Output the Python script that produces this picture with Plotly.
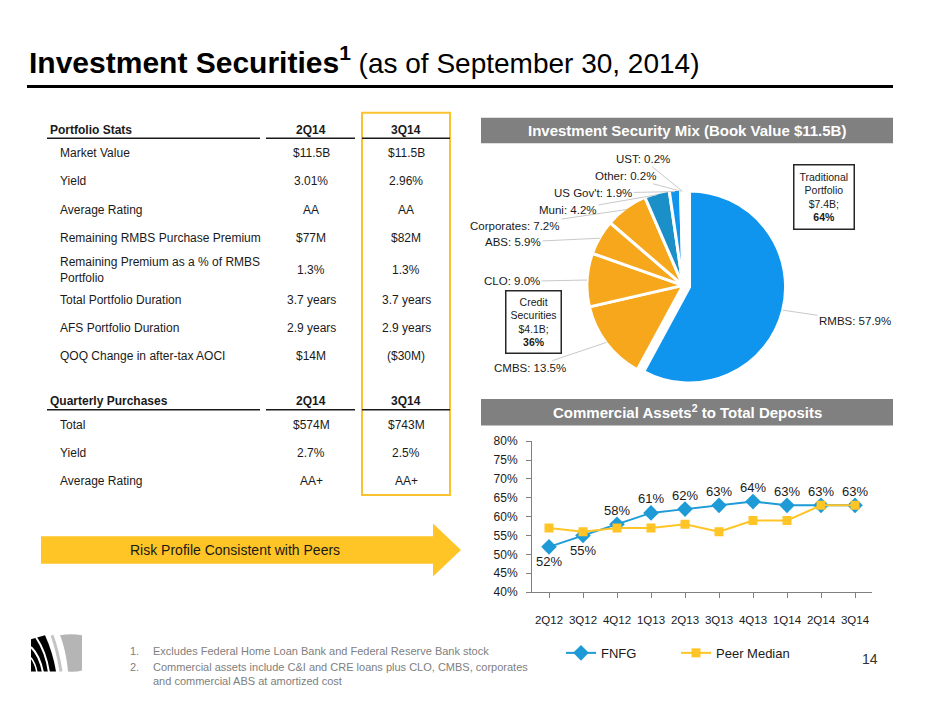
import math
import plotly.graph_objects as go

W, H = 940, 705

# Investment security mix (book value %)
mix_labels = ["RMBS", "CMBS", "CLO", "ABS", "Corporates", "Muni", "US Gov't", "Other", "UST"]
mix_values = [57.9, 13.5, 9.0, 5.9, 7.2, 4.2, 1.9, 0.2, 0.2]

# Commercial assets to total deposits (%)
quarters = ["2Q12", "3Q12", "4Q12", "1Q13", "2Q13", "3Q13", "4Q13", "1Q14", "2Q14", "3Q14"]
fnfg = [52, 55, 58, 61, 62, 63, 64, 63, 63, 63]
peer_median = [57, 56, 57, 57, 58, 56, 59, 59, 63, 63]
y_ticks = [40, 45, 50, 55, 60, 65, 70, 75, 80]

# Portfolio stats table
stats_labels = ["Market Value", "Yield", "Average Rating", "Remaining RMBS Purchase Premium",
                "Remaining Premium as a % of RMBS<br>Portfolio", "Total Portfolio Duration",
                "AFS Portfolio Duration", "QOQ Change in after-tax AOCI"]
stats_2q14 = ["$11.5B", "3.01%", "AA", "$77M", "1.3%", "3.7 years", "2.9 years", "$14M"]
stats_3q14 = ["$11.5B", "2.96%", "AA", "$82M", "1.3%", "3.7 years", "2.9 years", "($30M)"]

purch_labels = ["Total", "Yield", "Average Rating"]
purch_2q14 = ["$574M", "2.7%", "AA+"]
purch_3q14 = ["$743M", "2.5%", "AA+"]

FONT = "Liberation Sans, Arial, sans-serif"
DARK = "#1a1a1a"
GREY_BAR = "#808080"
YELLOW = "#FFC425"
ORANGE = "#F7A71C"
BLUE = "#1E9BD7"


def px(x):
    return x / W


def py(y):
    return 1 - y / H


fig = go.Figure()
shapes = []
annotations = []


def text(x, y, s, size=12, color=DARK, anchor="center", **kw):
    annotations.append(dict(x=px(x), y=py(y), xref="paper", yref="paper", text=s,
                            showarrow=False, xanchor=anchor, yanchor="middle",
                            font=dict(size=size, color=color, family=FONT), **kw))


def hline(x0, x1, y, color=DARK, width=1.5):
    shapes.append(dict(type="line", xref="paper", yref="paper", x0=px(x0), x1=px(x1),
                       y0=py(y), y1=py(y), line=dict(color=color, width=width)))


def rect(x0, y0, x1, y1, fill=None, line=None, lw=0):
    shapes.append(dict(type="rect", xref="paper", yref="paper", x0=px(x0), x1=px(x1),
                       y0=py(y1), y1=py(y0), fillcolor=fill or "rgba(0,0,0,0)",
                       line=dict(color=line or "rgba(0,0,0,0)", width=lw)))


def path(points, fill=None, line=None, lw=0):
    parts = []
    for p in points:
        if isinstance(p, str):
            parts.append(p)
        else:
            parts.append(f"{px(p[0]):.5f},{py(p[1]):.5f}")
    shapes.append(dict(type="path", xref="paper", yref="paper", path=" ".join(parts),
                       fillcolor=fill or "rgba(0,0,0,0)",
                       line=dict(color=line or "rgba(0,0,0,0)", width=lw)))


# ---- title
text(27, 54, "<b>Investment Securities<sup>1</sup></b>"
     "<span style='font-size:28px'> (as of September 30, 2014)</span>",
     size=30, color="#000000", anchor="left")
hline(27, 893, 81, color="#000000", width=3)

# ---- table
col_a, col_b = 311, 406
rect(362, 108, 450, 498, line="#FBC230", lw=2)

text(48, 126, "<b>Portfolio Stats</b>", anchor="left")
text(col_a, 126, "<b>2Q14</b>")
text(col_b, 126, "<b>3Q14</b>")
for y in (134, 411):
    hline(47, 260, y)
    hline(266, 355, y)
    hline(362, 450, y)

stats_y = [149, 178, 207, 236, 268, 299, 328, 356]
for lab, a, b, y in zip(stats_labels, stats_2q14, stats_3q14, stats_y):
    text(58, y, lab, anchor="left", align="left")
    text(col_a, y, a)
    text(col_b, y, b)

text(48, 402, "<b>Quarterly Purchases</b>", anchor="left")
text(col_a, 402, "<b>2Q14</b>")
text(col_b, 402, "<b>3Q14</b>")
purch_y = [426, 455, 484]
for lab, a, b, y in zip(purch_labels, purch_2q14, purch_3q14, purch_y):
    text(58, y, lab, anchor="left")
    text(col_a, y, a)
    text(col_b, y, b)

# ---- arrow
path(["M", (41, 540), "L", (433, 540), "L", (433, 527), "L", (461, 554), "L", (433, 581),
      "L", (433, 568), "L", (41, 568), "Z"], fill=YELLOW)
text(235, 554, "Risk Profile Consistent with Peers", size=14)

# ---- section headers
rect(481, 113, 893, 139, fill=GREY_BAR)
text(687, 126, "<b>Investment Security Mix (Book Value $11.5B)</b>", size=15, color="white")
rect(481, 400, 893, 427, fill=GREY_BAR)
text(687, 413, "<b>Commercial Assets<sup>2</sup> to Total Deposits</b>", size=15, color="white")

# ---- pie
cx, cy, r = 683, 284, 98
pulls = [0.07] + [0] * (len(mix_values) - 1)
side = 2 * r * (1 + max(pulls))
mix_colors = ["#0F95EE", ORANGE, ORANGE, ORANGE, ORANGE, "#1B8FC8", "#0F95EE",
              "#9FD0F2", "#4DB0F0"]
fig.add_trace(go.Pie(
    labels=mix_labels, values=mix_values, sort=False, direction="clockwise",
    rotation=0, pull=pulls, textinfo="none", hoverinfo="label+percent",
    marker=dict(colors=mix_colors, line=dict(color="white", width=3)),
    domain=dict(x=[px(cx - side / 2), px(cx + side / 2)],
                y=[py(cy + side / 2), py(cy - side / 2)]),
    showlegend=False,
))

label_pos = [(855, 320), (530, 368), (512, 280), (513, 240), (515, 223),
             (568, 207), (593, 190), (625, 173), (643, 156)]
total = sum(mix_values)
cum = 0
for lab, val, pull, (tx, ty) in zip(mix_labels, mix_values, pulls, label_pos):
    mid = math.radians((cum + val / 2) / total * 360)
    cum += val
    rr = r * (1 + pull) - 2
    ex = cx + rr * math.sin(mid)
    ey = cy - rr * math.cos(mid)
    annotations.append(dict(x=px(ex), y=py(ey), xref="paper", yref="paper",
                            text=f"{lab}: {val:.1f}%", showarrow=True, arrowhead=0,
                            arrowwidth=1, arrowcolor="#c9c9c9", ax=tx - ex, ay=ty - ey,
                            font=dict(size=11.5, color=DARK, family=FONT)))

text(824, 194, "Traditional<br>Portfolio<br>$7.4B;<br><b>64%</b>", size=10.5,
     bordercolor="#262626", borderwidth=1.5, borderpad=5, bgcolor="white")
text(533, 321, "Credit<br>Securities<br>$4.1B;<br><b>36%</b>", size=10.5,
     bordercolor="#262626", borderwidth=1.5, borderpad=4, bgcolor="white")

# ---- line chart
fig.add_trace(go.Scatter(
    x=quarters, y=fnfg, name="FNFG", mode="lines+markers",
    line=dict(color=BLUE, width=2),
    marker=dict(symbol="diamond", size=12, color=BLUE),
))
fig.add_trace(go.Scatter(
    x=quarters, y=peer_median, name="Peer Median", mode="lines+markers",
    line=dict(color=YELLOW, width=2),
    marker=dict(symbol="square", size=9, color=YELLOW),
))
for i, (q, v) in enumerate(zip(quarters, fnfg)):
    below = i < 2
    annotations.append(dict(x=q, y=v, xref="x", yref="y", text=f"{v}%", showarrow=False,
                            yshift=-15 if below else 14,
                            font=dict(size=13, color=DARK, family=FONT)))

fig.update_xaxes(
    domain=[px(532), px(872)], range=[-0.5, len(quarters) - 0.5],
    showline=True, linecolor="#808080", linewidth=1, showgrid=False, zeroline=False,
    ticks="outside", ticklen=5, tickcolor="#808080", ticklabelstandoff=12,
    tickfont=dict(size=11.5, color=DARK, family=FONT), fixedrange=True,
)
fig.update_yaxes(
    domain=[py(597), py(443)], range=[40, 80], tickmode="array", tickvals=y_ticks,
    ticktext=[f"{v}%" for v in y_ticks], showline=True, linecolor="#808080", linewidth=1,
    showgrid=False, zeroline=False, ticks="outside", ticklen=5, tickcolor="#808080",
    ticklabelstandoff=6, tickfont=dict(size=12, color=DARK, family=FONT), fixedrange=True,
)

# ---- footnotes and logo
text(128, 657, "1.", size=11, color="#808080", anchor="left")
text(151, 657, "Excludes Federal Home Loan Bank and Federal Reserve Bank stock",
     size=11, color="#808080", anchor="left")
text(128, 673, "2.", size=11, color="#808080", anchor="left")
text(151, 681, "Commercial assets include C&I and CRE loans plus CLO, CMBS, corporates<br>"
     "and commercial ABS at amortized cost", size=11, color="#808080", anchor="left",
     align="left")
text(870, 665, "14", size=14, color="#333333")

path(["M", (60, 641), "Q", (71, 639), (82, 641), "L", (82, 677), "Q", (75, 679), (68, 678),
      "C", (67, 665), (64, 651), (60, 641), "Z"], fill="#B5B5B5")
path(["M", (52, 641), "C", (56, 652), (59, 665), (61, 678)], line="#C4C4C4", lw=3)
path(["M", (31, 645), "L", (45, 641), "C", (50, 652), (54, 665), (56, 678), "L", (31, 678), "Z"],
     fill="#000000")
path(["M", (36, 643), "C", (42, 652), (47, 665), (49, 679)], line="white", lw=2)
path(["M", (31, 653), "C", (37, 659), (41, 668), (43, 679)], line="white", lw=2)
path(["M", (31, 664), "C", (34, 668), (36, 673), (37, 679)], line="white", lw=1.5)

fig.update_layout(
    width=W, height=H, autosize=False,
    margin=dict(l=0, r=0, t=0, b=0),
    paper_bgcolor="white", plot_bgcolor="white",
    font=dict(family=FONT, color=DARK),
    shapes=shapes, annotations=annotations,
    legend=dict(orientation="h", x=px(561), y=py(659), xanchor="left", yanchor="middle",
                font=dict(size=13, color=DARK, family=FONT), bgcolor="rgba(0,0,0,0)",
                entrywidth=70, entrywidthmode="pixels"),
)

fig.write_html("out.html", config={"displayModeBar": False},
               post_script="document.body.style.margin='0';")
